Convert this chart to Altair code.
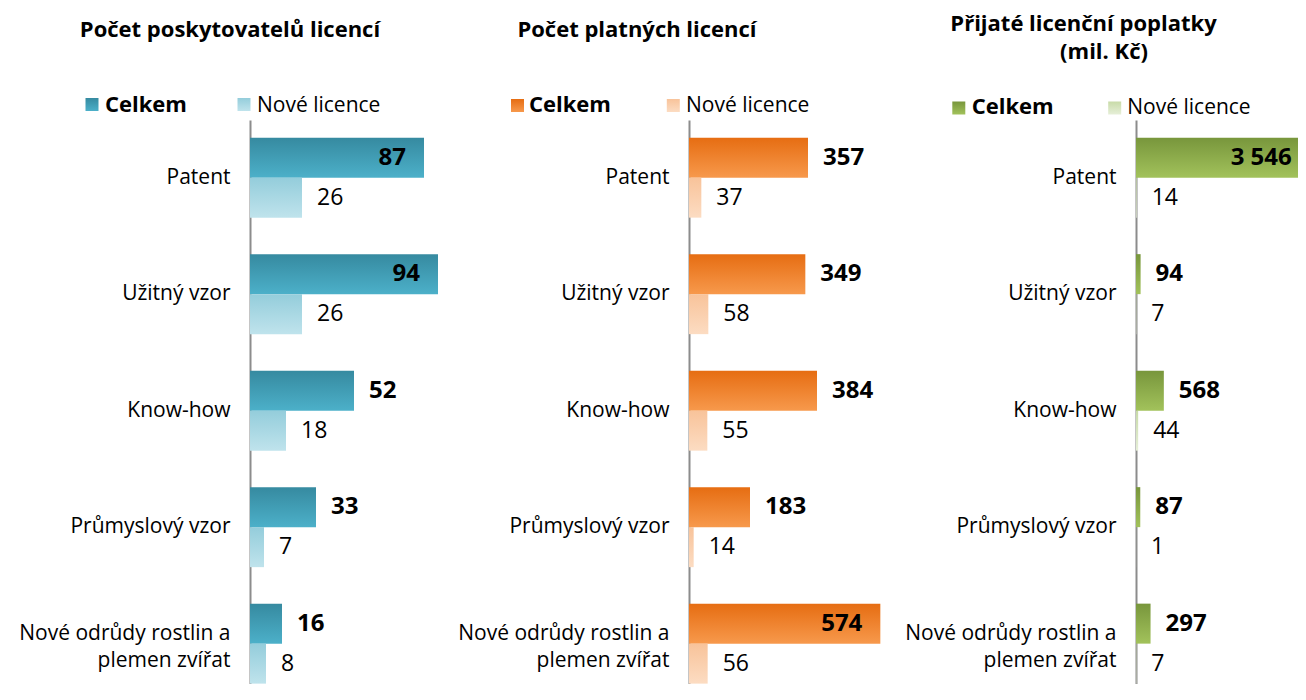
import altair as alt
import pandas as pd

categories = ["Patent", "Užitný vzor", "Know-how", "Průmyslový vzor",
              "Nové odrůdy rostlin a plemen zvířat"]
series = ["Celkem", "Nové licence"]

title_1 = ["Počet poskytovatelů licencí"]
title_2 = ["Počet platných licencí"]
title_3 = ["Přijaté licenční poplatky", "(mil. Kč)"]

poskytovatele_celkem = [87, 94, 52, 33, 16]
poskytovatele_nove = [26, 26, 18, 7, 8]
platne_celkem = [357, 349, 384, 183, 574]
platne_nove = [37, 58, 55, 14, 56]
poplatky_celkem = [3546, 94, 568, 87, 297]
poplatky_nove = [14, 7, 44, 1, 7]

FONT = "Open Sans"
PLOT_H = 564


def fmt(v):
    return f"{v:,}".replace(",", " ")


def make_df(celkem, nove):
    rows = []
    for c, a, b in zip(categories, celkem, nove):
        rows.append({"category": c, "series": series[0], "value": a, "label": fmt(a)})
        rows.append({"category": c, "series": series[1], "value": b, "label": fmt(b)})
    return pd.DataFrame(rows)


def gradient(top, bottom):
    return alt.LinearGradient(
        gradient="linear", x1=0, y1=0, x2=0, y2=1,
        stops=[alt.GradientStop(color=top, offset=0),
               alt.GradientStop(color=bottom, offset=1)])


long_cat = categories[-1]
label_expr = ("datum.value == '" + long_cat + "' ? "
              "['Nové odrůdy rostlin a', 'plemen zvířat'] : datum.value")
baseline_expr = "datum.value == '" + long_cat + "' ? 'bottom' : 'middle'"

one = pd.DataFrame({"k": [0]})


def panel(celkem, nove, xmax, width, dark, light, titles, title_pos,
          sq_pos, txt_x, txt_y, first=False):
    df = make_df(celkem, nove)
    base = alt.Chart(df)
    y = alt.Y("category:N", sort=categories,
              scale=alt.Scale(paddingInner=0.3133, paddingOuter=0.0773, align=0.98),
              axis=alt.Axis(title=None, ticks=False, domainColor="#8c8c8c",
                            domainWidth=2, labelFont=FONT, labelFontSize=21,
                            labelColor="#000000", labelPadding=20, labelLimit=400,
                            labelLineHeight=27, labelExpr=label_expr,
                            labelBaseline={"expr": baseline_expr},
                            minExtent=242, maxExtent=242, grid=False))
    yoff = alt.YOffset("series:N", sort=series,
                       scale=alt.Scale(domain=series, paddingInner=0, paddingOuter=0))
    x = alt.X("value:Q", scale=alt.Scale(domain=[0, xmax], nice=False, zero=True),
              axis=None)
    is_c = alt.datum.series == series[0]
    is_n = alt.datum.series == series[1]
    thr = 0.75 * xmax

    layers = [
        base.transform_filter(is_c).mark_bar(color=gradient(*dark), clip=True)
            .encode(x=x, y=y, yOffset=yoff),
        base.transform_filter(is_n).mark_bar(color=gradient(*light), clip=True)
            .encode(x=x, y=y, yOffset=yoff),
        base.transform_filter(is_c & (alt.datum.value > thr))
            .mark_text(align="right", baseline="middle", dx=-18, font=FONT,
                       fontSize=24, fontWeight="bold", color="#000000")
            .encode(x=x, y=y, yOffset=yoff, text="label:N"),
        base.transform_filter(is_c & (alt.datum.value <= thr))
            .mark_text(align="left", baseline="middle", dx=15, font=FONT,
                       fontSize=24, fontWeight="bold", color="#000000")
            .encode(x=x, y=y, yOffset=yoff, text="label:N"),
        base.transform_filter(is_n)
            .mark_text(align="left", baseline="middle", dx=15, font=FONT,
                       fontSize=23, color="#000000")
            .encode(x=x, y=y, yOffset=yoff, text="label:N"),
    ]
    # titles
    for t, (tx, ty) in zip(titles, title_pos):
        layers.append(
            alt.Chart(pd.DataFrame({"t": [t]})).mark_text(
                align="center", baseline="alphabetic", font=FONT, fontSize=22,
                fontWeight="bold", color="#000000")
            .encode(x=alt.value(tx), y=alt.value(ty), text="t:N"))
    # legend
    cols = [dark, light]
    weights = ["bold", "normal"]
    sizes = [22, 21]
    for i, s in enumerate(series):
        sx, sy = sq_pos[i]
        layers.append(
            alt.Chart(one).mark_square(size=169, color=gradient(*cols[i]), opacity=1)
            .encode(x=alt.value(sx), y=alt.value(sy)))
        layers.append(
            alt.Chart(pd.DataFrame({"t": [s]})).mark_text(
                align="left", baseline="alphabetic", font=FONT, fontSize=sizes[i],
                fontWeight=weights[i], color="#000000")
            .encode(x=alt.value(txt_x[i]), y=alt.value(txt_y), text="t:N"))
    if first:
        layers.append(
            alt.Chart(one).mark_text(text=" ", baseline="top", fontSize=10, opacity=0)
            .encode(x=alt.value(0), y=alt.value(-112)))
    return alt.layer(*layers).properties(width=width, height=PLOT_H)


teal = ("#368aa0", "#4cb0c9")
teal_l = ("#94cddb", "#bfe3ec")
orange = ("#e66d12", "#f7994c")
orange_l = ("#f8c39a", "#fcdcc2")
green = ("#78963c", "#a2c25b")
green_l = ("#c8dba8", "#e6efd8")

p1 = panel(poskytovatele_celkem, poskytovatele_nove, 99.5, 199, teal, teal_l,
           title_1, [(-20, -83)], [(-158, -15.5), (-6, -15.5)], [-145, 7], -8,
           first=True)
p2 = panel(platne_celkem, platne_nove, 621, 207, orange, orange_l,
           title_2, [(-52, -83)], [(-171.5, -14.5), (-15.7, -14.5)], [-160, -3], -8)
p3 = panel(poplatky_celkem, poplatky_nove, 3306, 162, green, green_l,
           title_3, [(-52.5, -89), (-32, -61)], [(-177.2, -12), (-21.3, -12)],
           [-164.3, -8.7], -6)

chart = alt.hconcat(p1, p2, p3, spacing=240, bounds="flush").properties(
    padding=0).configure_view(stroke=None)

chart.save("out.html", embed_options={"renderer": "svg", "actions": False})
